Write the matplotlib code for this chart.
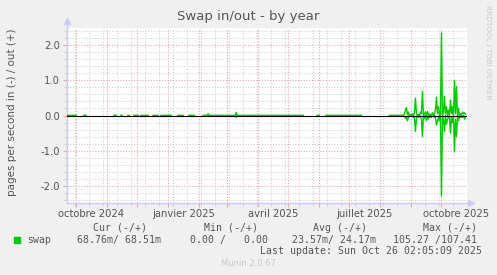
import numpy as np
import pandas as pd
import matplotlib
matplotlib.use("Agg")
from matplotlib import pyplot as plt
import matplotlib.dates as mdates

# Swap in/out - by year (munin style)

# days with data where the rate stays at ~0
flat_segments = [
    ("2024-09-22", "2024-10-01"), ("2024-10-09", "2024-10-11"),
    ("2024-11-08", "2024-11-10"), ("2024-11-15", "2024-11-16"),
    ("2024-11-22", "2024-11-23"), ("2024-11-28", "2024-12-02"),
    ("2024-12-05", "2024-12-12"), ("2024-12-17", "2024-12-22"),
    ("2024-12-25", "2025-01-04"), ("2025-01-11", "2025-01-16"),
    ("2025-01-22", "2025-01-27"), ("2025-02-05", "2025-05-16"),
    ("2025-05-30", "2025-06-01"), ("2025-06-08", "2025-07-13"),
    ("2025-08-10", "2025-08-24"),
]
bump_dates = ["2025-02-10", "2025-03-10"]
bump_out = [0.05, 0.09]
bump_in = [0.02, 0.05]

# daily values 2025-08-25 .. 2025-10-25
swap_out = [0.05, 0.15, 0.22, 0.02, 0.10, 0.00, 0.03,
            0.00, 0.05, 0.00, 0.10, 0.49, 0.05, 0.00, 0.03, 0.00, 0.10,
            0.05, 0.68, 0.00, 0.05, 0.10, 0.00, 0.12, 0.00, 0.05, 0.03,
            0.00, 0.08, 0.00, 0.05, 0.15, 0.52, 0.05, 0.25, 0.00, 0.05,
            2.34, 0.00, 0.10, 0.54, 0.05, 0.25, 0.00, 0.15, 0.00, 0.44,
            0.05, 0.25, 0.00, 1.00, 0.05, 0.82, 0.00, 0.20, 0.00, 0.05,
            0.00, 0.10, 0.05, 0.08, 0.03]
swap_in = [0.03, 0.08, 0.05, 0.15, 0.05, 0.00, 0.02,
           0.00, 0.03, 0.05, 0.05, 0.45, 0.10, 0.00, 0.05, 0.00, 0.05,
           0.10, 0.60, 0.00, 0.08, 0.00, 0.15, 0.05, 0.10, 0.00, 0.05,
           0.05, 0.00, 0.05, 0.00, 0.08, 0.27, 0.15, 0.05, 0.15, 0.00,
           2.28, 0.05, 0.10, 0.45, 0.00, 0.25, 0.10, 0.05, 0.05, 0.50,
           0.05, 0.20, 0.05, 1.03, 0.10, 0.60, 0.05, 0.15, 0.00, 0.05,
           0.05, 0.05, 0.00, 0.10, 0.05]
active_dates = pd.date_range("2025-08-25", periods=len(swap_out), freq="D")

month_labels = ["octobre 2024", "janvier 2025", "avril 2025", "juillet 2025", "octobre 2025"]
label_dates = ["2024-10-16", "2025-01-16", "2025-04-16", "2025-07-16", "2025-10-16"]

# build daily series
days = pd.date_range("2024-09-22", "2025-10-26", freq="D")
out_s = pd.Series(np.nan, index=days)
in_s = pd.Series(np.nan, index=days)
for a, b in flat_segments:
    out_s[a:b] = 0.0
    in_s[a:b] = 0.0
for d, o, i in zip(bump_dates, bump_out, bump_in):
    out_s[d] = o
    in_s[d] = i
out_s[active_dates] = swap_out
in_s[active_dates] = swap_in

bg = "#F0F0F0"
txt = "#555555"
green = "#00CC00"
major_c = "#E6A8A8"
minor_c = "#D2D2D2"
axis_c = "#C8CCF4"

W, H = 497, 275
fig = plt.figure(figsize=(W / 100, H / 100), dpi=100, facecolor=bg)
ax = fig.add_axes([67 / W, 1 - 203 / H, 400 / W, 175 / H])
ax.set_facecolor("white")

ax.plot(days, out_s.values, color=green, lw=1.0, zorder=3)
ax.plot(days, -in_s.values, color=green, lw=1.0, zorder=3)
ax.axhline(0, color="black", lw=0.8, zorder=4)

ax.set_xlim(pd.Timestamp("2024-09-22"), pd.Timestamp("2025-10-26 12:00"))
ax.set_ylim(-2.48, 2.48)

ax.xaxis.set_major_locator(mdates.MonthLocator())
ax.xaxis.set_minor_locator(mdates.WeekdayLocator(byweekday=mdates.MO, interval=2))
ax.xaxis.set_major_formatter(plt.NullFormatter())
ax.set_yticks([-2, -1, 0, 1, 2])
ax.set_yticks(np.arange(-2.4, 2.5, 0.2), minor=True)
ax.set_yticklabels(["%.1f" % v for v in [-2, -1, 0, 1, 2]])

ax.grid(which="major", color=major_c, ls=(0, (1, 1.5)), lw=0.8, zorder=1)
ax.grid(which="minor", color=minor_c, ls=(0, (1, 1.5)), lw=0.8, zorder=0)
ax.tick_params(which="major", length=3, width=0.8, color=major_c, labelcolor=txt,
               labelsize=7.2, pad=2)
ax.tick_params(which="minor", length=2, width=0.8, color=minor_c)

for s in ["top", "right"]:
    ax.spines[s].set_visible(False)
for s in ["left", "bottom"]:
    ax.spines[s].set_color(axis_c)
    ax.spines[s].set_linewidth(1.0)

# axis arrows
ax.plot([0, 0], [1, 1.035], transform=ax.transAxes, color=axis_c, lw=1.0, clip_on=False)
ax.plot([0], [1.04], transform=ax.transAxes, marker="^", color=axis_c, ms=5, clip_on=False)
ax.plot([1, 1.008], [0, 0], transform=ax.transAxes, color=axis_c, lw=1.0, clip_on=False)
ax.plot([1.01], [0], transform=ax.transAxes, marker=">", color=axis_c, ms=5, clip_on=False)

for lab, d in zip(month_labels, label_dates):
    ax.text(pd.Timestamp(d), -0.035, lab, transform=ax.get_xaxis_transform(),
            ha="center", va="top", fontsize=7.2, color=txt)

fig.text(248 / W, 1 - 20 / H, "Swap in/out - by year", ha="center", va="baseline",
         fontsize=9.5, color=txt)
fig.text(12 / W, 1 - 112 / H, "pages per second in (-) / out (+)", rotation=90,
         ha="center", va="center", fontsize=7.5, color=txt)
fig.text(488 / W, 1 - 5 / H, "RRDTOOL / TOBI OETIKER", rotation=270, ha="center",
         va="top", fontsize=5.3, color="#C8C8C8")

mono = dict(family="DejaVu Sans Mono", fontsize=7.1, color=txt, va="center")
fig.patches.append(plt.Rectangle((14 / W, 1 - 243 / H), 6 / W, 6 / H,
                                 transform=fig.transFigure, color=green))
fig.text(27 / W, 1 - 240 / H, "swap", ha="left", **mono)
for x, t in [(120, "Cur (-/+)"), (231, "Min (-/+)"), (340, "Avg (-/+)"), (450, "Max (-/+)")]:
    fig.text(x / W, 1 - 228 / H, t, ha="center", **mono)
for x, t in [(77, "68.76m/ 68.51m"), (190, "0.00 /   0.00"),
             (292, "23.57m/ 24.17m"), (393, "105.27 /107.41")]:
    fig.text(x / W, 1 - 240 / H, t, ha="left", **mono)
fig.text(482 / W, 1 - 251 / H, "Last update: Sun Oct 26 02:05:09 2025", ha="right", **mono)
fig.text(248 / W, 1 - 264 / H, "Munin 2.0.67", ha="center", va="center",
         fontsize=6, color="#C8C8C8")

fig.savefig("out.png", dpi=100, facecolor=bg)
